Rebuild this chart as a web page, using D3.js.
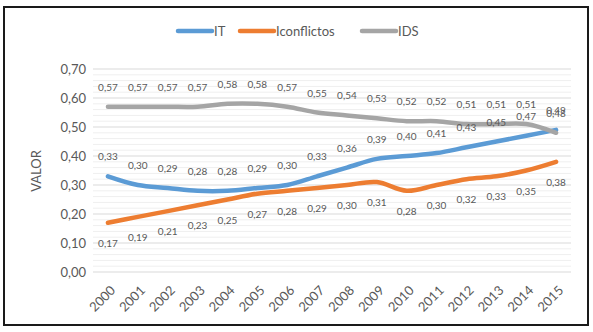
<!DOCTYPE html>
<html lang="es">
<head>
    <meta charset="UTF-8">
    <title>IT, Iconflictos, IDS</title>
    <script src="https://d3js.org/d3.v7.min.js"></script>
    <style>
        body { margin: 0; background: #fff; }
        text { font-family: Lato, "Open Sans", sans-serif; fill: #595959; }
    </style>
</head>
<body>
    <div id="chart"></div>
    <script>
        // data
        var years = ["2000", "2001", "2002", "2003", "2004", "2005", "2006", "2007",
                     "2008", "2009", "2010", "2011", "2012", "2013", "2014", "2015"];
        var itValues = [0.33, 0.30, 0.29, 0.28, 0.28, 0.29, 0.30, 0.33,
                        0.36, 0.39, 0.40, 0.41, 0.43, 0.45, 0.47, 0.49];
        var conflictValues = [0.17, 0.19, 0.21, 0.23, 0.25, 0.27, 0.28, 0.29,
                              0.30, 0.31, 0.28, 0.30, 0.32, 0.33, 0.35, 0.38];
        var idsValues = [0.57, 0.57, 0.57, 0.57, 0.58, 0.58, 0.57, 0.55,
                         0.54, 0.53, 0.52, 0.52, 0.51, 0.51, 0.51, 0.48];
        var seriesNames = ["IT", "Iconflictos", "IDS"];
        var yTicks = [0, 0.1, 0.2, 0.3, 0.4, 0.5, 0.6, 0.7];

        var w = 593;
        var h = 332;
        var colors = ["#5B9BD5", "#ED7D31", "#A5A5A5"];
        var labelPos = ["above", "below", "above"];
        var series = [itValues, conflictValues, idsValues];

        var svg = d3.select("#chart")
            .append("svg")
            .attr("width", w)
            .attr("height", h);

        // frame
        svg.append("rect")
            .attr("x", 4)
            .attr("y", 7)
            .attr("width", 584)
            .attr("height", 318)
            .attr("fill", "none")
            .attr("stroke", "#1a1a1a")
            .attr("stroke-width", 2);

        var xScale = d3.scaleBand()
            .domain(years)
            .range([93, 571]);

        var yScale = d3.scaleLinear()
            .domain([0, 0.7])
            .range([272, 69]);

        var fmt = function(v) { return d3.format(".2f")(v).replace(".", ","); };
        var cx = function(i) { return xScale(years[i]) + xScale.bandwidth() / 2; };

        // minor gridlines every 0.02
        var minor = d3.range(0, 71, 2).map(d => d / 100).filter(d => Math.round(d * 100) % 10 !== 0);
        svg.append("g").selectAll("line")
            .data(minor)
            .enter()
            .append("line")
            .attr("x1", 93).attr("x2", 571)
            .attr("y1", d => yScale(d)).attr("y2", d => yScale(d))
            .attr("stroke", "#efefef")
            .attr("stroke-width", 1);

        // major gridlines
        svg.append("g").selectAll("line")
            .data(yTicks)
            .enter()
            .append("line")
            .attr("x1", 93).attr("x2", 571)
            .attr("y1", d => yScale(d)).attr("y2", d => yScale(d))
            .attr("stroke", "#d9d9d9")
            .attr("stroke-width", 1);

        // y axis labels
        var yAxis = svg.append("g")
            .attr("transform", "translate(86,0)")
            .call(d3.axisLeft(yScale).tickValues(yTicks).tickFormat(fmt).tickSize(0).tickPadding(0));
        yAxis.select(".domain").remove();
        yAxis.selectAll("text")
            .attr("font-size", "13px")
            .style("font-family", "Lato, sans-serif")
            .attr("fill", "#595959");

        // x axis labels
        var xAxis = svg.append("g")
            .attr("transform", "translate(0,272)")
            .call(d3.axisBottom(xScale).tickSize(0).tickPadding(0));
        xAxis.select(".domain").remove();
        xAxis.selectAll("text")
            .attr("font-size", "13px")
            .style("font-family", "Lato, sans-serif")
            .attr("fill", "#595959")
            .attr("text-anchor", "end")
            .attr("dy", "0.35em")
            .attr("transform", "translate(5,16) rotate(-45)");

        // axis title
        svg.append("text")
            .attr("transform", "translate(41,171) rotate(-90)")
            .attr("text-anchor", "middle")
            .attr("font-size", "13px")
            .text("VALOR");

        var line = d3.line()
            .x((d, i) => cx(i))
            .y(d => yScale(d))
            .curve(d3.curveCatmullRom.alpha(0.5));

        series.forEach(function(vals, s) {
            svg.append("path")
                .datum(vals)
                .attr("d", line)
                .attr("fill", "none")
                .attr("stroke", colors[s])
                .attr("stroke-width", 4.5)
                .attr("stroke-linecap", "round")
                .attr("stroke-linejoin", "round");
        });

        // data labels
        series.forEach(function(vals, s) {
            svg.append("g").selectAll("text")
                .data(vals)
                .enter()
                .append("text")
                .attr("x", (d, i) => cx(i))
                .attr("y", d => labelPos[s] === "above" ? yScale(d) - 16 : yScale(d) + 24)
                .attr("text-anchor", "middle")
                .attr("font-size", "10px")
                .text(d => fmt(d));
        });

        // legend
        var legendX = [178, 240, 362];
        var legend = svg.append("g");
        seriesNames.forEach(function(name, s) {
            legend.append("line")
                .attr("x1", legendX[s]).attr("x2", legendX[s] + 34)
                .attr("y1", 31).attr("y2", 31)
                .attr("stroke", colors[s])
                .attr("stroke-width", 4.5)
                .attr("stroke-linecap", "round");
            legend.append("text")
                .attr("x", legendX[s] + 36)
                .attr("y", 35.5)
                .attr("font-size", "13px")
                .text(name);
        });
    </script>
</body>
</html>
